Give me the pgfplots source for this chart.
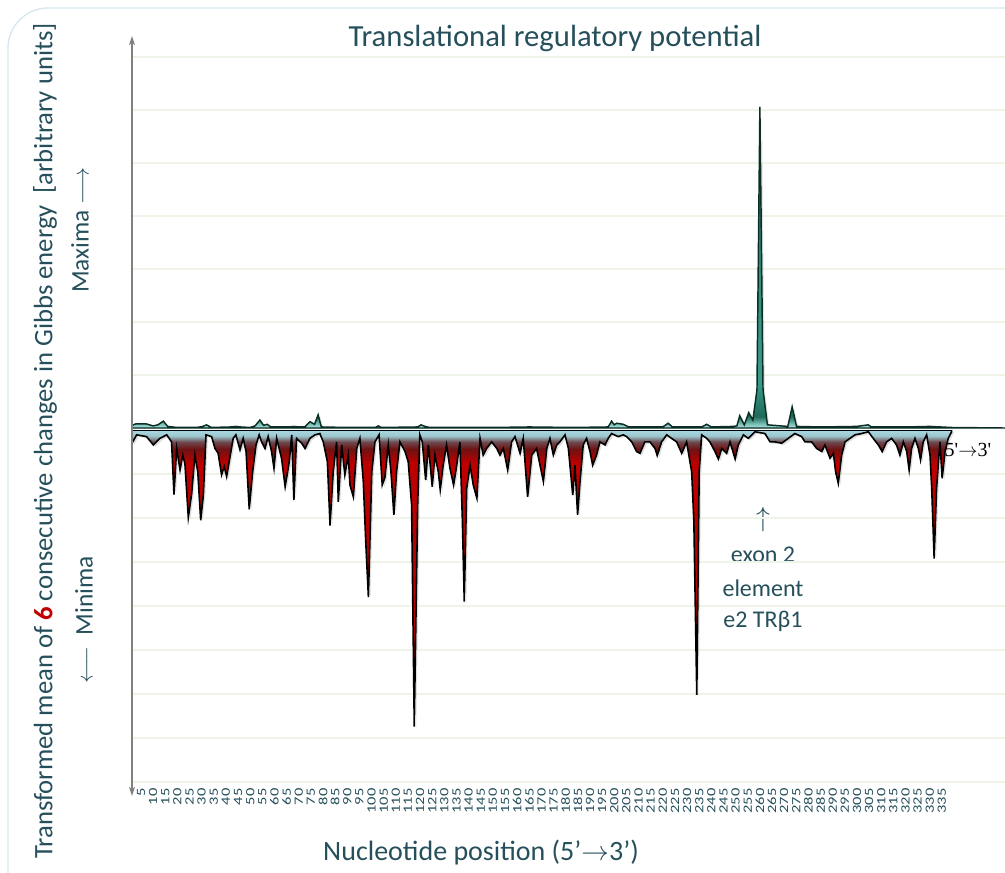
\documentclass[border=0pt]{standalone}
\usepackage{pgfplots}
\usepackage{pgfplotstable}
\pgfplotsset{compat=1.18}
\usepackage{graphicx}
\usepackage{fontspec}
\setmainfont{Carlito}
\newfontfamily\serifarrow{Liberation Serif}
\usetikzlibrary{arrows.meta}
\definecolor{txt}{HTML}{264F5C}
\definecolor{gridc}{HTML}{EEF5E8}
\definecolor{red6}{HTML}{C00000}
\definecolor{bordc}{HTML}{D6E7EE}
\definecolor{nlight}{HTML}{AAD8E2}
\definecolor{nlight2}{HTML}{9CC6CE}
\definecolor{nmid}{HTML}{6E4A50}
\definecolor{ndark}{HTML}{6E1212}
\definecolor{nred}{HTML}{BC0000}
\definecolor{plight}{HTML}{B4E2E4}
\definecolor{pmid}{HTML}{7CC2BA}
\definecolor{pdark}{HTML}{1E6A58}
\definecolor{pteal}{HTML}{3A9A8A}
\definecolor{pteal2}{HTML}{1F6E60}
\definecolor{pline}{HTML}{0B2E24}
\pgfdeclareverticalshading{negsh}{100bp}{color(0bp)=(nred); color(69.5bp)=(nred); color(71.8bp)=(ndark); color(73bp)=(nmid); color(74bp)=(nlight2); color(75bp)=(nlight); color(100bp)=(nlight)}
\pgfdeclareverticalshading{possh}{100bp}{color(0bp)=(plight); color(25bp)=(plight); color(25.6bp)=(pmid); color(26.8bp)=(pdark); color(32bp)=(pteal); color(100bp)=(pteal2)}

\pgfplotstableread{
x y
1.3 0.05
3 0.08
7 0.08
10 0.04
12 0.06
14.2 0.13
16 0.03
20 0.01
28 0.01
30.5 0.03
32 0.06
34 0.01
42 0.02
44 0.03
46 0.02
50 0.01
52 0.04
54 0.15
55.5 0.05
57 0.07
58.5 0.02
66 0.02
68 0.03
70 0.02
72.5 0.02
74.6 0.12
76.5 0.07
78 0.25
79.3 0.02
90 0.01
101.5 0.01
102.8 0.04
104 0.01
119 0.02
120.4 0.06
122 0.03
124 0.01
150 0.01
165 0.02
183 0.01
197.5 0.02
198.9 0.13
200 0.06
201 0.09
203.7 0.07
206 0.02
220 0.02
222.2 0.09
224 0.02
236 0.02
238.1 0.07
240 0.02
249 0.03
250.5 0.04
251.7 0.23
253.6 0.06
255.4 0.29
257.1 0.15
258.8 0.72
260.0 6.06
261.3 0.72
263.1 0.06
271.5 0.03
273.3 0.40
275.1 0.03
285 0.02
300 0.03
304.6 0.06
306 0.02
320 0.02
330 0.03
339 0.01
361 0
}\posdata

\pgfplotstableread{
x y
1.3 -0.30
3.2 -0.11
7.3 -0.15
10.1 -0.34
12.8 -0.19
15.6 -0.11
17.6 -0.27
18.6 -1.47
19.7 -0.42
21.1 -0.91
22.2 -0.57
23.1 -0.76
24.5 -1.99
25.9 -1.44
27.2 -0.57
28.4 -0.95
29.6 -2.05
30.7 -1.48
31.8 -0.11
34.1 -0.15
35.5 -0.42
36.8 -0.53
38.2 -1.02
39.3 -0.83
40.3 -1.06
41.4 -0.70
43.0 -0.19
44.1 -0.11
45.8 -0.45
47.1 -0.19
48.3 -0.49
49.6 -1.80
51.0 -0.95
52.4 -0.34
53.7 -0.11
54.7 -0.27
56.1 -0.42
57.4 -0.15
58.8 -0.49
59.8 -0.87
60.9 -0.19
62.9 -0.64
64.4 -1.29
66.1 -0.72
67.1 -0.11
68.0 -1.59
69.1 -0.19
71.2 -0.30
72.6 -0.42
74.6 -0.19
76.7 -0.11
78.7 -0.08
80.1 -0.27
81.8 -0.72
82.9 -2.17
84.2 -0.95
85.6 -0.27
86.3 -1.63
87.7 -0.34
89.0 -1.02
90.4 -0.57
91.1 -1.25
92.5 -1.52
93.9 -0.42
95.2 -0.19
96.6 -1.17
97.6 -2.53
98.7 -3.80
100.1 -0.95
101.4 -0.27
103.1 -0.11
104.4 -1.25
105.5 -1.08
106.9 -0.34
108.0 -0.95
109.2 -1.93
110.3 -0.95
111.7 -0.27
113.8 -0.49
115.1 -0.72
116.5 -1.70
117.6 -6.74
119.0 -1.70
119.9 -0.11
120.9 -0.27
122.3 -1.14
123.4 -0.34
125.0 -1.29
126.1 -0.57
127.5 -0.95
128.3 -1.36
129.5 -0.80
130.9 -0.34
132.3 -0.87
133.8 -1.25
135.1 -0.80
136.4 -0.27
137.4 -2.01
138.2 -3.90
139.2 -1.33
140.6 -0.80
141.9 -1.25
143.4 -1.55
144.7 -0.19
146.0 -0.57
147.4 -0.42
149.5 -0.27
151.6 -0.42
152.9 -0.57
154.3 -0.42
156.1 -0.91
157.7 -0.27
159.1 -0.15
161.2 -0.53
162.5 -0.19
164.3 -1.52
166.0 -0.57
168.0 -0.42
170.8 -1.17
172.2 -0.42
173.5 -0.19
174.9 -0.57
176.3 -0.34
177.6 -0.27
179.7 -0.11
181.1 -0.42
182.0 -0.95
182.9 -1.48
183.8 -0.80
184.9 -1.93
185.9 -1.17
187.2 -0.34
188.6 -0.19
190.0 -0.49
191.1 -0.80
192.7 -0.57
194.1 -0.27
196.2 -0.34
197.5 -0.19
198.9 -0.08
201.6 -0.15
203.7 -0.11
205.1 -0.15
207.2 -0.27
209.2 -0.49
210.6 -0.53
212.6 -0.27
214.7 -0.27
216.8 -0.42
217.7 -0.58
219.5 -0.27
221.6 -0.11
223.6 -0.19
225.7 -0.27
227.8 -0.53
229.8 -0.27
231.9 -0.95
232.8 -2.08
234.0 -6.02
235.0 -0.95
236.0 -0.11
238.1 -0.19
239.4 -0.27
241.5 -0.49
242.9 -0.66
244.3 -0.42
246.3 -0.53
247.7 -0.27
249.8 -0.66
251.1 -0.34
253.2 -0.11
255.2 -0.19
258.0 -0.04
262.1 -0.08
264.2 -0.27
266.2 -0.27
269.0 -0.30
271.7 -0.19
274.4 -0.08
277.2 -0.15
278.6 -0.27
281.3 -0.27
283.4 -0.42
285.5 -0.49
286.8 -0.34
288.9 -0.64
290.3 -0.53
291.2 -0.95
292.3 -1.21
293.7 -0.57
295.1 -0.27
297.1 -0.19
299.2 -0.11
301.9 -0.08
304.7 -0.04
306.7 -0.19
308.8 -0.34
310.4 -0.49
312.2 -0.27
314.3 -0.19
316.3 -0.34
317.7 -0.57
319.1 -0.27
320.5 -0.49
321.5 -0.91
322.5 -0.42
323.9 -0.19
325.3 -0.42
326.2 -0.68
327.3 -0.27
328.7 -0.11
330.1 -0.57
330.8 -1.33
331.8 -2.92
332.8 -1.33
334.2 -0.27
335.1 -1.10
336.3 -0.49
337.6 -0.19
339.0 -0.04
}\negdata

\begin{document}
\begin{tikzpicture}
\useasboundingbox (0,0) rectangle (753.75pt,-654pt);
\begin{scope}[x=0.75pt,y=-0.75pt]
\draw[bordc, line width=1pt, rounded corners=30pt] (8,8) rectangle (1060,920);
\node[text=txt, font=\fontsize{23}{25}\selectfont] at (555,38) {Translational regulatory potential};
\node[text=txt, font=\fontsize{21}{24}\selectfont] at (481,852) {Nucleotide position (5'$\rightarrow$3')};
\node[text=txt, rotate=90, font=\fontsize{20}{22}\selectfont] at (45,441) {Transformed mean of {\bfseries\color{red6}6} consecutive changes in Gibbs energy\ \ [arbitrary units]};
\node[text=txt, rotate=90, font=\fontsize{19}{22}\selectfont] at (80,230) {Maxima $\longrightarrow$};
\node[text=txt, rotate=90, font=\fontsize{19}{22}\selectfont] at (84,620) {$\longleftarrow$\ \ Minima};
\node[text=txt, font=\fontsize{20}{22}\selectfont] at (763,520) {$\uparrow$};
\node[text=txt, font=\fontsize{18}{20}\selectfont] at (763,555) {exon 2};
\node[text=txt, font=\fontsize{18}{20}\selectfont] at (763,588) {element};
\node[text=txt, font=\fontsize{18}{20}\selectfont] at (763,621) {e2 TRβ1};
\node[text=black, font=\serifarrow\fontsize{15}{17}\selectfont, anchor=west] at (940,450) {5'$\rightarrow$3'};
\end{scope}

\begin{axis}[
  at={(99pt,-321pt)}, anchor=south west, scale only axis,
  width=654.75pt, height=292.5pt,
  xmin=1.3, xmax=361, ymin=0, ymax=7.358,
  axis line style={draw=none},
  xtick=\empty, ytick={1,...,7}, yticklabels={},
  major tick length=0pt,
  ymajorgrids, grid style={gridc, line width=0.8pt},
]
\addplot[draw=none, fill=black, fill opacity=0.10, xshift=1.5pt, yshift=-1pt] table[x=x,y=y] {\posdata} \closedcycle;
\addplot[draw=pline, line width=1.1pt, shading=possh] table[x=x,y=y] {\posdata} \closedcycle;
\end{axis}

\begin{axis}[
  at={(99pt,-322.5pt)}, anchor=north west, scale only axis,
  width=654.75pt, height=267.75pt,
  xmin=1.3, xmax=361, ymin=-8.114, ymax=0,
  axis line style={draw=none},
  ytick={-8,...,-1}, yticklabels={},
  xtick={5,10,...,335},
  /pgf/number format/assume math mode=true,
  xticklabel={\scalebox{1.3}[1]{\pgfmathprintnumber{\tick}}},
  xticklabel style={rotate=90, anchor=east, inner sep=1pt, font=\fontsize{9.5}{9.5}\selectfont, text=txt},
  major tick length=0pt,
  ymajorgrids, grid style={gridc, line width=0.8pt},
]
\addplot[draw=none, fill=black, fill opacity=0.12, xshift=1.5pt, yshift=-1.5pt] table[x=x,y=y] {\negdata} \closedcycle;
\addplot[draw=black, line width=1.2pt, shading=negsh] table[x=x,y=y] {\negdata} \closedcycle;
\end{axis}

\begin{scope}[x=0.75pt,y=-0.75pt]
\draw[gray, line width=0.8pt, {Stealth[length=7pt,width=4.5pt]}-{Stealth[length=7pt,width=4.5pt]}] (132,796) -- (132,36);
\end{scope}
\end{tikzpicture}
\end{document}
